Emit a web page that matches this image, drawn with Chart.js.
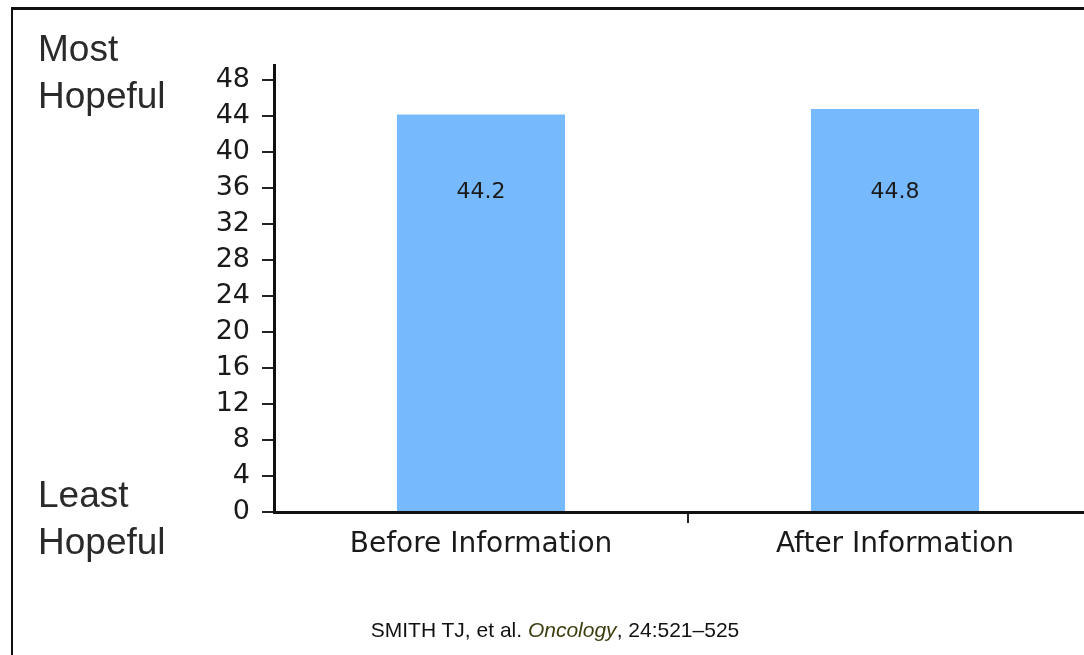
<!DOCTYPE html>
<html>
<head>
<meta charset="utf-8">
<script src="https://cdn.jsdelivr.net/npm/chart.js@4.4.0/dist/chart.umd.min.js"></script>
<style>
  html, body { margin: 0; padding: 0; background: #fff; overflow: hidden; width: 1084px; height: 655px; }
  #wrap { position: relative; width: 1084px; height: 655px; overflow: hidden; }
  #frame { position: absolute; left: 11px; top: 7px; width: 1200px; height: 700px;
           border-left: 2px solid #111; border-top: 3px solid #111; }
  #chartCanvas { position: absolute; left: 0; top: 0; }
  #source { position: absolute; left: 305px; top: 620px; width: 500px; text-align: center;
            font: 21px "Liberation Sans", Arial, sans-serif; line-height: 20px; color: #111; }
  #source i { color: #3d3d10; }
</style>
</head>
<body>
<div id="wrap">
  <div id="frame"></div>
  <canvas id="chartCanvas" width="1102" height="655"></canvas>
  <div id="source">SMITH TJ, et al. <i>Oncology</i>, 24:521–525</div>
</div>
<script>
const categories = ['Before Information', 'After Information'];
const hopeScores = [44.2, 44.8];
const yTickValues = [0, 4, 8, 12, 16, 20, 24, 28, 32, 36, 40, 44, 48];
const topLabel = ['Most', 'Hopeful'];
const bottomLabel = ['Least', 'Hopeful'];

const sideText = {
  id: 'sideText',
  afterDatasetsDraw(chart) {
    const ctx = chart.ctx;
    const yScale = chart.scales.y;
    ctx.save();
    // value labels inside bars
    ctx.font = '22px "DejaVu Sans", sans-serif';
    ctx.fillStyle = '#1a1a1a';
    ctx.textAlign = 'center';
    ctx.textBaseline = 'alphabetic';
    chart.getDatasetMeta(0).data.forEach((bar, i) => {
      ctx.fillText(hopeScores[i].toFixed(1), bar.x, yScale.getPixelForValue(34.9));
    });
    // hope scale ends on the left
    ctx.font = '37px "Liberation Sans", Arial, sans-serif';
    ctx.fillStyle = '#2a2a2a';
    ctx.textAlign = 'left';
    ctx.fillText(topLabel[0], 38, 61);
    ctx.fillText(topLabel[1], 38, 108);
    ctx.fillText(bottomLabel[0], 38, 507);
    ctx.fillText(bottomLabel[1], 38, 554);
    ctx.restore();
  }
};

const ctx = document.getElementById('chartCanvas').getContext('2d');
const chart = new Chart(ctx, {
  type: 'bar',
  data: {
    labels: categories,
    datasets: [{
      data: hopeScores,
      backgroundColor: '#77b9fd',
      borderWidth: 0,
      barPercentage: 0.406,
      categoryPercentage: 1,
    }],
  },
  options: {
    responsive: false,
    animation: false,
    layout: { padding: { top: 65, left: 0, right: 0, bottom: 0 } },
    plugins: {
      legend: { display: false },
      tooltip: { enabled: false },
    },
    scales: {
      x: {
        grid: {
          offset: true,
          drawOnChartArea: false,
          tickLength: 11,
          lineWidth: 2,
          color: c => (c.index === 1 ? '#222' : 'rgba(0,0,0,0)'),
        },
        border: { display: true, color: '#111', width: 3 },
        ticks: {
          color: '#1a1a1a',
          padding: 5,
          font: { family: '"DejaVu Sans", sans-serif', size: 28 },
        },
        afterFit(scale) { scale.height = 143; },
      },
      y: {
        min: 0,
        max: 49.7,
        afterBuildTicks(scale) {
          scale.ticks = yTickValues.map(v => ({ value: v }));
        },
        grid: {
          drawOnChartArea: false,
          tickLength: 12,
          lineWidth: 2,
          color: '#222',
        },
        border: { display: true, color: '#111', width: 3 },
        ticks: {
          color: '#1a1a1a',
          padding: 12,
          font: { family: '"DejaVu Sans", sans-serif', size: 27 },
        },
        afterFit(scale) { scale.width = 274; },
      },
    },
  },
  plugins: [sideText],
});
</script>
</body>
</html>
